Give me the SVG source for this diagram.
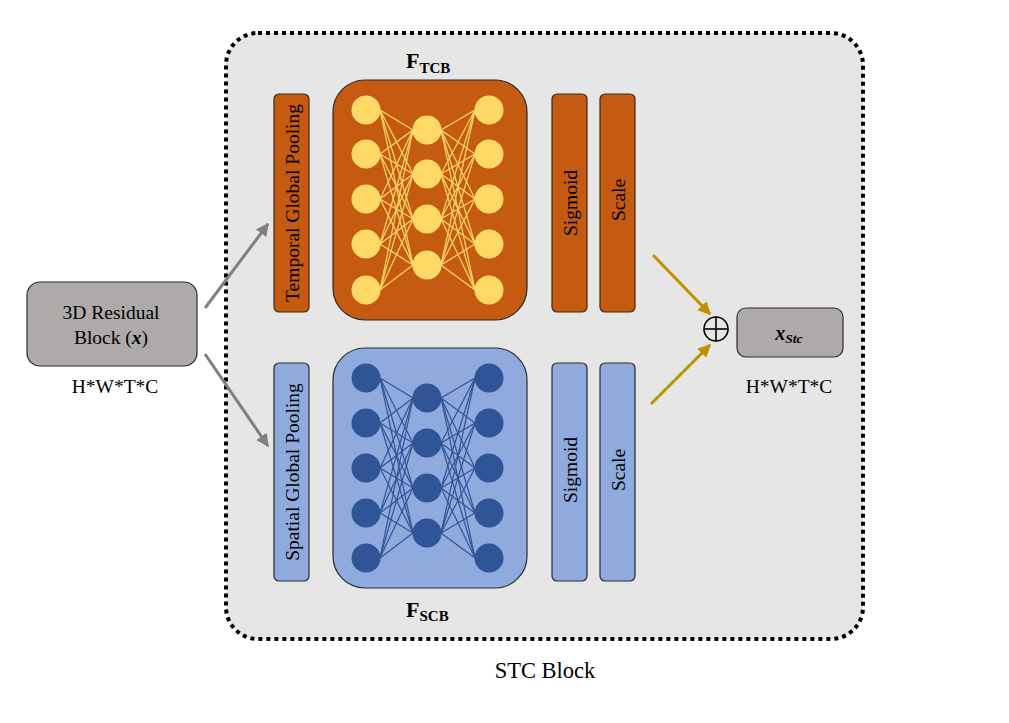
<svg xmlns="http://www.w3.org/2000/svg" width="1009" height="723" viewBox="0 0 1009 723">
<style>
text{font-family:"Liberation Serif","Times New Roman",serif;fill:#000}
.lbl{font-size:19.5px;text-anchor:middle}
.vt{font-size:19.5px;text-anchor:middle;dominant-baseline:central}
.or{fill:#c55a11;stroke:#3a2a1a;stroke-width:1.2}
.bl{fill:#8faadc;stroke:#2b2b2b;stroke-width:1.2}
.gr{fill:#aeaaaa;stroke:#2b2b2b;stroke-width:1.2}
.yl line{stroke:#ffd966;stroke-width:1.2}
.yl circle{fill:#ffd966}
.db line{stroke:#2f5597;stroke-width:1.2}
.db circle{fill:#2f5597}
</style>
<defs>
<marker id="ag" viewBox="0 0 10 10" refX="9" refY="5" markerWidth="4.3" markerHeight="4.3" orient="auto" markerUnits="strokeWidth"><path d="M0,0 L10,5 L0,10 z" fill="#808080"/></marker>
<marker id="ao" viewBox="0 0 10 10" refX="9" refY="5" markerWidth="4.3" markerHeight="4.3" orient="auto" markerUnits="strokeWidth"><path d="M0,0 L10,5 L0,10 z" fill="#bf9000"/></marker>
</defs>
<rect width="1009" height="723" fill="#fff"/>
<g id="stc-block">
<rect x="226" y="33" width="637" height="606" rx="32" fill="#e7e6e6" stroke="#000" stroke-width="4" stroke-dasharray="4 4"/>
<text x="545" y="678" style="font-size:22.5px;text-anchor:middle">STC Block</text>
</g>
<g id="connectors">
<line x1="205" y1="308" x2="268" y2="224" stroke="#808080" stroke-width="3" marker-end="url(#ag)"/>
<line x1="205" y1="354" x2="268" y2="446" stroke="#808080" stroke-width="3" marker-end="url(#ag)"/>
<line x1="653" y1="255" x2="710" y2="314" stroke="#bf9000" stroke-width="3" marker-end="url(#ao)"/>
<line x1="651" y1="404" x2="710" y2="345" stroke="#bf9000" stroke-width="3" marker-end="url(#ao)"/>
</g>
<g id="input">
<rect class="gr" x="27" y="282" width="170" height="84" rx="13"/>
<text class="lbl" x="111" y="319">3D Residual</text>
<text class="lbl" x="111" y="344">Block (<tspan font-weight="bold" font-style="italic">x</tspan>)</text>
<text class="lbl" x="115" y="393">H*W*T*C</text>
</g>
<g id="temporal-pooling">
<rect class="or" x="274" y="94" width="35" height="218" rx="5"/>
<text class="vt" transform="translate(292,203) rotate(-90)">Temporal Global Pooling</text>
</g>
<g id="spatial-pooling">
<rect class="bl" x="274" y="363" width="35" height="218" rx="5"/>
<text class="vt" transform="translate(292,472) rotate(-90)">Spatial Global Pooling</text>
</g>
<g id="f-tcb">
<rect x="333" y="80" width="194" height="240" rx="32" fill="#c55a11" stroke="#2b2b2b" stroke-width="1.2"/>
<text x="406" y="68" style="font-size:22px;font-weight:bold">F<tspan dy="5" style="font-size:15px">TCB</tspan></text>
<g class="yl">
<line x1="380" y1="110" x2="413" y2="130"/><line x1="380" y1="110" x2="413" y2="174"/><line x1="380" y1="110" x2="413" y2="219"/><line x1="380" y1="110" x2="413" y2="265"/>
<line x1="380" y1="154" x2="413" y2="130"/><line x1="380" y1="154" x2="413" y2="174"/><line x1="380" y1="154" x2="413" y2="219"/><line x1="380" y1="154" x2="413" y2="265"/>
<line x1="380" y1="199" x2="413" y2="130"/><line x1="380" y1="199" x2="413" y2="174"/><line x1="380" y1="199" x2="413" y2="219"/><line x1="380" y1="199" x2="413" y2="265"/>
<line x1="380" y1="244" x2="413" y2="130"/><line x1="380" y1="244" x2="413" y2="174"/><line x1="380" y1="244" x2="413" y2="219"/><line x1="380" y1="244" x2="413" y2="265"/>
<line x1="380" y1="290" x2="413" y2="130"/><line x1="380" y1="290" x2="413" y2="174"/><line x1="380" y1="290" x2="413" y2="219"/><line x1="380" y1="290" x2="413" y2="265"/>
<line x1="441" y1="130" x2="475" y2="110"/><line x1="441" y1="130" x2="475" y2="154"/><line x1="441" y1="130" x2="475" y2="199"/><line x1="441" y1="130" x2="475" y2="244"/><line x1="441" y1="130" x2="475" y2="290"/>
<line x1="441" y1="174" x2="475" y2="110"/><line x1="441" y1="174" x2="475" y2="154"/><line x1="441" y1="174" x2="475" y2="199"/><line x1="441" y1="174" x2="475" y2="244"/><line x1="441" y1="174" x2="475" y2="290"/>
<line x1="441" y1="219" x2="475" y2="110"/><line x1="441" y1="219" x2="475" y2="154"/><line x1="441" y1="219" x2="475" y2="199"/><line x1="441" y1="219" x2="475" y2="244"/><line x1="441" y1="219" x2="475" y2="290"/>
<line x1="441" y1="265" x2="475" y2="110"/><line x1="441" y1="265" x2="475" y2="154"/><line x1="441" y1="265" x2="475" y2="199"/><line x1="441" y1="265" x2="475" y2="244"/><line x1="441" y1="265" x2="475" y2="290"/>
<circle cx="366" cy="110" r="14.5"/><circle cx="366" cy="154" r="14.5"/><circle cx="366" cy="199" r="14.5"/><circle cx="366" cy="244" r="14.5"/><circle cx="366" cy="290" r="14.5"/>
<circle cx="427" cy="130" r="14.5"/><circle cx="427" cy="174" r="14.5"/><circle cx="427" cy="219" r="14.5"/><circle cx="427" cy="265" r="14.5"/>
<circle cx="489" cy="110" r="14.5"/><circle cx="489" cy="154" r="14.5"/><circle cx="489" cy="199" r="14.5"/><circle cx="489" cy="244" r="14.5"/><circle cx="489" cy="290" r="14.5"/>
</g>
</g>
<g id="f-scb">
<rect x="333" y="348" width="194" height="240" rx="32" fill="#8faadc" stroke="#2b2b2b" stroke-width="1.2"/>
<text x="406" y="617" style="font-size:22px;font-weight:bold">F<tspan dy="4" style="font-size:15px">SCB</tspan></text>
<g class="db">
<line x1="380" y1="378" x2="413" y2="398"/><line x1="380" y1="378" x2="413" y2="443"/><line x1="380" y1="378" x2="413" y2="488"/><line x1="380" y1="378" x2="413" y2="533"/>
<line x1="380" y1="423" x2="413" y2="398"/><line x1="380" y1="423" x2="413" y2="443"/><line x1="380" y1="423" x2="413" y2="488"/><line x1="380" y1="423" x2="413" y2="533"/>
<line x1="380" y1="468" x2="413" y2="398"/><line x1="380" y1="468" x2="413" y2="443"/><line x1="380" y1="468" x2="413" y2="488"/><line x1="380" y1="468" x2="413" y2="533"/>
<line x1="380" y1="513" x2="413" y2="398"/><line x1="380" y1="513" x2="413" y2="443"/><line x1="380" y1="513" x2="413" y2="488"/><line x1="380" y1="513" x2="413" y2="533"/>
<line x1="380" y1="558" x2="413" y2="398"/><line x1="380" y1="558" x2="413" y2="443"/><line x1="380" y1="558" x2="413" y2="488"/><line x1="380" y1="558" x2="413" y2="533"/>
<line x1="441" y1="398" x2="475" y2="378"/><line x1="441" y1="398" x2="475" y2="423"/><line x1="441" y1="398" x2="475" y2="468"/><line x1="441" y1="398" x2="475" y2="513"/><line x1="441" y1="398" x2="475" y2="558"/>
<line x1="441" y1="443" x2="475" y2="378"/><line x1="441" y1="443" x2="475" y2="423"/><line x1="441" y1="443" x2="475" y2="468"/><line x1="441" y1="443" x2="475" y2="513"/><line x1="441" y1="443" x2="475" y2="558"/>
<line x1="441" y1="488" x2="475" y2="378"/><line x1="441" y1="488" x2="475" y2="423"/><line x1="441" y1="488" x2="475" y2="468"/><line x1="441" y1="488" x2="475" y2="513"/><line x1="441" y1="488" x2="475" y2="558"/>
<line x1="441" y1="533" x2="475" y2="378"/><line x1="441" y1="533" x2="475" y2="423"/><line x1="441" y1="533" x2="475" y2="468"/><line x1="441" y1="533" x2="475" y2="513"/><line x1="441" y1="533" x2="475" y2="558"/>
<circle cx="366" cy="378" r="14.5"/><circle cx="366" cy="423" r="14.5"/><circle cx="366" cy="468" r="14.5"/><circle cx="366" cy="513" r="14.5"/><circle cx="366" cy="558" r="14.5"/>
<circle cx="427" cy="398" r="14.5"/><circle cx="427" cy="443" r="14.5"/><circle cx="427" cy="488" r="14.5"/><circle cx="427" cy="533" r="14.5"/>
<circle cx="489" cy="378" r="14.5"/><circle cx="489" cy="423" r="14.5"/><circle cx="489" cy="468" r="14.5"/><circle cx="489" cy="513" r="14.5"/><circle cx="489" cy="558" r="14.5"/>
</g>
</g>
<g id="sigmoid-top">
<rect class="or" x="552" y="94" width="35" height="218" rx="5"/>
<text class="vt" transform="translate(570,203) rotate(-90)">Sigmoid</text>
</g>
<g id="scale-top">
<rect class="or" x="600" y="94" width="35" height="218" rx="5"/>
<text class="vt" transform="translate(618,200) rotate(-90)">Scale</text>
</g>
<g id="sigmoid-bottom">
<rect class="bl" x="552" y="363" width="35" height="218" rx="5"/>
<text class="vt" transform="translate(570,470) rotate(-90)">Sigmoid</text>
</g>
<g id="scale-bottom">
<rect class="bl" x="600" y="363" width="35" height="218" rx="5"/>
<text class="vt" transform="translate(618,470) rotate(-90)">Scale</text>
</g>
<g id="sum">
<circle cx="716" cy="329" r="12" fill="none" stroke="#000" stroke-width="1.6"/>
<line x1="704" y1="329" x2="728" y2="329" stroke="#000" stroke-width="1.6"/>
<line x1="716" y1="317" x2="716" y2="341" stroke="#000" stroke-width="1.6"/>
</g>
<g id="output">
<rect class="gr" x="737" y="308" width="106" height="49" rx="9"/>
<text x="789" y="340" style="font-size:20px;font-weight:bold;font-style:italic;text-anchor:middle">x<tspan dy="3" style="font-size:13.5px">Stc</tspan></text>
<text class="lbl" x="789" y="393">H*W*T*C</text>
</g>
</svg>
